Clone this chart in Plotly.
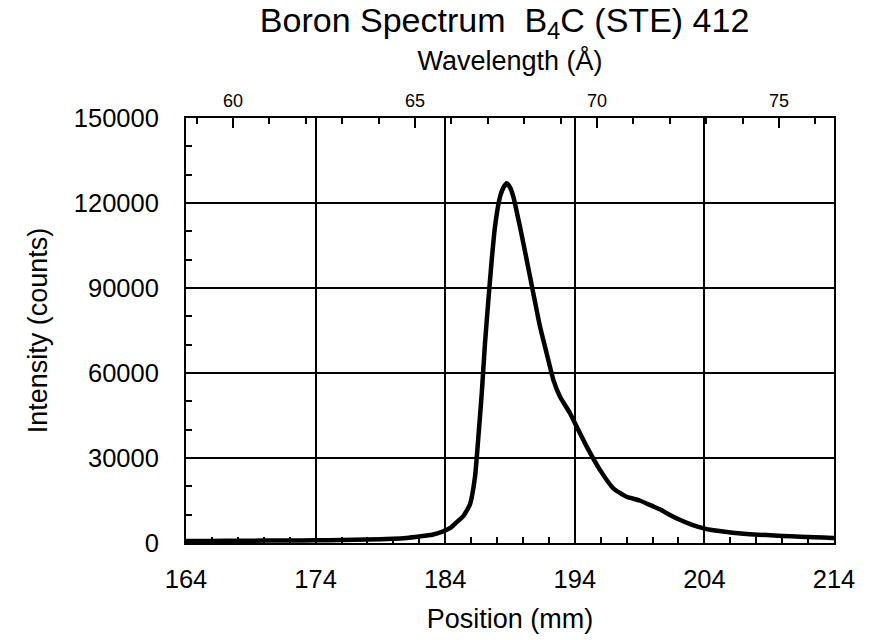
import plotly.graph_objects as go

# Data
position_mm = [164, 166, 168, 170, 172, 174, 176, 178, 180, 181, 182, 183, 183.8, 184.4,
               184.8, 185.4, 185.9, 186.3, 186.56, 186.82, 187.07, 187.33, 187.59, 187.84,
               188.23, 188.5, 188.74, 189.0, 189.26, 189.77, 190.29, 190.8, 191.32, 191.83,
               192.35, 192.86, 193.63, 194.15, 194.92, 195.94, 196.97, 198.0, 199.0, 200.0,
               200.6, 201.3, 202.1, 203.0, 204.1, 205.0, 206.2, 207.5, 208.8, 210.0, 211.4,
               212.5, 213.9, 214.0]
intensity = [700, 750, 800, 850, 900, 950, 1050, 1200, 1500, 1800, 2300, 2900, 4000, 5300,
             7000, 9500, 13500, 23400, 37500, 52800, 70500, 85700, 99900, 111600,
             122200, 125500, 127000, 125500, 122200, 111600, 99900, 88100, 76300, 66900,
             57500, 51600, 45800, 41000, 34000, 25800, 19300, 16300, 15000, 13000,
             11800, 10000, 8200, 6500, 5000, 4300, 3600, 3100, 2800, 2500, 2200,
             2000, 1800, 1800]

x_ticks = [164, 174, 184, 194, 204, 214]
y_ticks = [0, 30000, 60000, 90000, 120000, 150000]
wl_ticks = [60, 65, 70, 75]
wl_range = [58.71, 76.51]

FONT = "Liberation Sans, Arial, Helvetica, sans-serif"

fig = go.Figure()
fig.add_trace(go.Scatter(x=position_mm, y=intensity, mode="lines",
                         line=dict(color="black", width=4.5, shape="spline", smoothing=0.5),
                         showlegend=False, hoverinfo="x+y"))
fig.add_trace(go.Scatter(x=[], y=[], xaxis="x2", yaxis="y", showlegend=False))

fig.update_layout(
    width=870, height=640,
    margin=dict(l=186, r=36, t=118, b=97),
    paper_bgcolor="white", plot_bgcolor="white",
    font=dict(family=FONT, color="black"),
    title=dict(text="Boron Spectrum  B<sub>4</sub>C (STE) 412",
               x=0.580, xanchor="center", y=0.969, yanchor="middle",
               font=dict(size=34, family=FONT, color="black")),
    xaxis=dict(range=[164, 214], tickvals=x_ticks, ticks="inside", ticklen=0,
               showgrid=True, gridcolor="black", gridwidth=1.5,
               showline=True, linecolor="black", linewidth=2, mirror=True,
               zeroline=False, tickfont=dict(size=25.5), ticklabelstandoff=12,
               minor=dict(dtick=2, tick0=164, ticks="inside", ticklen=6,
                          tickcolor="black", tickwidth=1.5, showgrid=False),
               title=dict(text="Position (mm)", font=dict(size=27), standoff=18)),
    xaxis2=dict(range=wl_range, overlaying="x", side="top", tickvals=wl_ticks,
                ticks="inside", ticklen=10, tickcolor="black", tickwidth=1.5,
                showgrid=False, showline=False, zeroline=False,
                tickfont=dict(size=18), ticklabelstandoff=6,
                minor=dict(dtick=1, tick0=60, ticks="inside", ticklen=6,
                           tickcolor="black", tickwidth=1.5, showgrid=False),
                title=dict(text="Wavelength (Å)", font=dict(size=27), standoff=12)),
    yaxis=dict(range=[0, 150000], tickvals=y_ticks, tickformat="d", ticks="inside", ticklen=0,
               showgrid=True, gridcolor="black", gridwidth=1.5,
               showline=True, linecolor="black", linewidth=2, mirror=True,
               zeroline=False, tickfont=dict(size=25.5), ticklabelstandoff=20,
               minor=dict(dtick=10000, tick0=0, ticks="inside", ticklen=6,
                          tickcolor="black", tickwidth=1.5, showgrid=False),
               title=dict(text="Intensity (counts)", font=dict(size=27), standoff=18)),
)

fig.write_html("out.html")
